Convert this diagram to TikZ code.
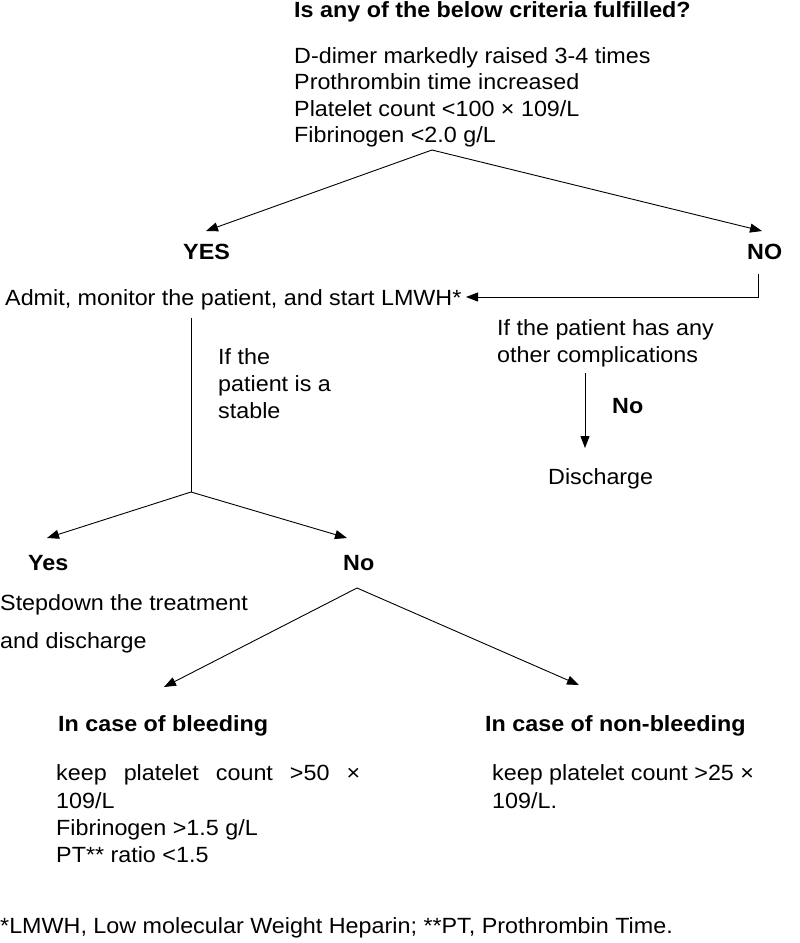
\documentclass[tikz,border=0pt]{standalone}
\usepackage{fontspec}
\setmainfont{Liberation Sans}[FakeStretch=1.06]
\usetikzlibrary{arrows.meta}
\begin{document}
\begin{tikzpicture}[x=1pt,y=-1pt,
  txt/.style={anchor=base west, inner sep=0pt, font=\fontsize{22}{26}\selectfont},
  bld/.style={anchor=base west, inner sep=0pt, font=\fontsize{22}{26}\selectfont\bfseries},
  con/.style={line width=0.9pt},
  arr/.style={con, -{Triangle[length=12pt,width=9pt]}}]
\useasboundingbox[fill=white] (0,0) rectangle (800,943);

% top criteria
\node[bld] (title) at (294,17) {Is any of the below criteria fulfilled?};
\node[txt] (c1) at (294,63) {D-dimer markedly raised 3-4 times};
\node[txt] (c2) at (294,89) {Prothrombin time increased};
\node[txt] (c3) at (294,116) {Platelet count <100 × 109/L};
\node[txt] (c4) at (294,142) {Fibrinogen <2.0 g/L};

\coordinate (j1) at (432,150);
\coordinate (tYES) at (206,231);
\coordinate (tNO) at (762,231);
\draw[arr] (j1) -- (tYES);
\draw[arr] (j1) -- (tNO);

\node[bld] (yes) at (183,259) {YES};
\node[bld] (no) at (747,259) {NO};

\node[txt] (admit) at (5,305) {Admit, monitor the patient, and start LMWH*};
\coordinate (n1) at (758,274);
\coordinate (n2) at (758,297);
\coordinate (tAdmit) at (466,297);
\draw[arr] (n1) -- (n2) -- (tAdmit);

% left branch
\coordinate (v1) at (191,318);
\coordinate (j2) at (191,492);
\draw[con] (v1) -- (j2);
\node[txt] (s1) at (218,364) {If the};
\node[txt] (s2) at (218,391) {patient is a};
\node[txt] (s3) at (218,418) {stable};

% right branch
\node[txt] (o1) at (497,335) {If the patient has any};
\node[txt] (o2) at (497,362) {other complications};
\coordinate (d1) at (585,373);
\coordinate (d2) at (585,448);
\draw[arr] (d1) -- (d2);
\node[bld] (no2) at (612,413) {No};
\node[txt] (dis) at (548,484) {Discharge};

\coordinate (tYes2) at (47,538);
\coordinate (tNo2) at (347,538);
\draw[arr] (j2) -- (tYes2);
\draw[arr] (j2) -- (tNo2);
\node[bld] (yes2) at (28,570) {Yes};
\node[bld] (no3) at (343,570) {No};
\node[txt] (sd1) at (0,610) {Stepdown the treatment};
\node[txt] (sd2) at (0,648) {and discharge};

\coordinate (j3) at (357,588);
\coordinate (tB) at (164,687);
\coordinate (tN) at (579,685);
\draw[arr] (j3) -- (tB);
\draw[arr] (j3) -- (tN);

\node[bld] (hb) at (58,731) {In case of bleeding};
\node[bld] (hn) at (485,731) {In case of non-bleeding};

\node[txt] (b1) at (56,780) {\makebox[304pt][s]{keep platelet count >50 ×}};
\node[txt] (b2) at (56,808) {109/L};
\node[txt] (b3) at (56,835) {Fibrinogen >1.5 g/L};
\node[txt] (b4) at (56,862) {PT** ratio <1.5};

\node[txt] (r1) at (492,780) {keep platelet count >25 ×};
\node[txt] (r2) at (492,808) {109/L.};

\node[txt] (foot) at (0,933) {*LMWH, Low molecular Weight Heparin; **PT, Prothrombin Time.};
\end{tikzpicture}
\end{document}
